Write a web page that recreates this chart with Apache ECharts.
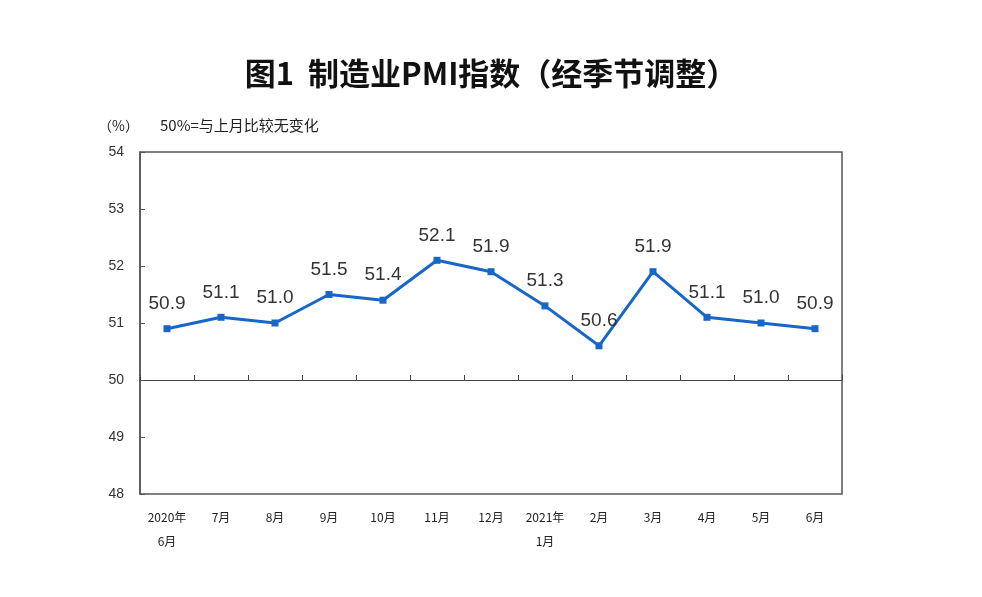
<!DOCTYPE html>
<html><head><meta charset="utf-8">
<script src="https://cdn.jsdelivr.net/npm/echarts@6/dist/echarts.min.js"></script>
<style>html,body{margin:0;padding:0;background:#fff}#c{width:982px;height:597px}</style>
</head><body><div id="c"></div>
<script>
const categories = ['2020年\n6月','7月','8月','9月','10月','11月','12月','2021年\n1月','2月','3月','4月','5月','6月'];
const pmiValues = [50.9, 51.1, 51.0, 51.5, 51.4, 52.1, 51.9, 51.3, 50.6, 51.9, 51.1, 51.0, 50.9];
const yTicks = {min: 48, max: 54, interval: 1};
const titleText = '图1  制造业PMI指数（经季节调整）';
const unitText = '（%）';
const noteText = '50%=与上月比较无变化';

const chart = echarts.init(document.getElementById('c'));
chart.setOption({
  backgroundColor: '#fff',
  animation: false,
  title: {
    text: titleText, left: 'center', top: 53,
    textStyle: {fontFamily: 'Noto Sans CJK SC', fontSize: 31, fontWeight: 'bold', color: '#111'}
  },
  graphic: [
    {type: 'text', left: 98, top: 119, style: {text: unitText, font: '14px "Noto Sans CJK SC"', fill: '#222'}},
    {type: 'text', left: 160, top: 118, style: {text: noteText, font: '15px "Noto Sans CJK SC"', fill: '#222'}}
  ],
  grid: [
    {left: 140, right: 140, top: 152, bottom: 103, show: true, borderColor: '#555', borderWidth: 1.5, containLabel: false},
    {left: 140, right: 140, top: 152, bottom: 217, show: false}
  ],
  xAxis: [
    {type: 'category', gridIndex: 0, data: categories, boundaryGap: true,
     axisLine: {show: false}, axisTick: {show: false}, splitLine: {show: false},
     axisLabel: {interval: 0, margin: 11, fontFamily: 'Noto Sans CJK SC', fontSize: 12, color: '#222', lineHeight: 24, verticalAlign: 'top'}},
    {type: 'category', gridIndex: 1, data: categories, boundaryGap: true,
     axisLine: {show: true, lineStyle: {color: '#444', width: 1.2}},
     axisTick: {show: true, inside: true, length: 5, lineStyle: {color: '#444'}},
     axisLabel: {show: false}, splitLine: {show: false}}
  ],
  yAxis: [
    {type: 'value', gridIndex: 0, min: yTicks.min, max: yTicks.max, interval: yTicks.interval,
     axisLine: {show: true, lineStyle: {color: '#555', width: 1.5}},
     axisTick: {show: true, inside: true, length: 5, lineStyle: {color: '#555'}},
     splitLine: {show: false},
     axisLabel: {margin: 16, fontFamily: 'Liberation Sans', fontSize: 14, color: '#333'}},
    {type: 'value', gridIndex: 1, min: 50, max: 54, show: false}
  ],
  series: [{
    type: 'line', xAxisIndex: 0, yAxisIndex: 0, data: pmiValues,
    symbol: 'rect', symbolSize: 7, showAllSymbol: true,
    lineStyle: {color: '#1766c8', width: 3},
    itemStyle: {color: '#1766c8'},
    label: {show: true, position: 'top', distance: 12, formatter: p => p.value.toFixed(1),
      fontFamily: 'Liberation Sans', fontSize: 19, color: '#333'}
  }]
});
</script></body></html>
